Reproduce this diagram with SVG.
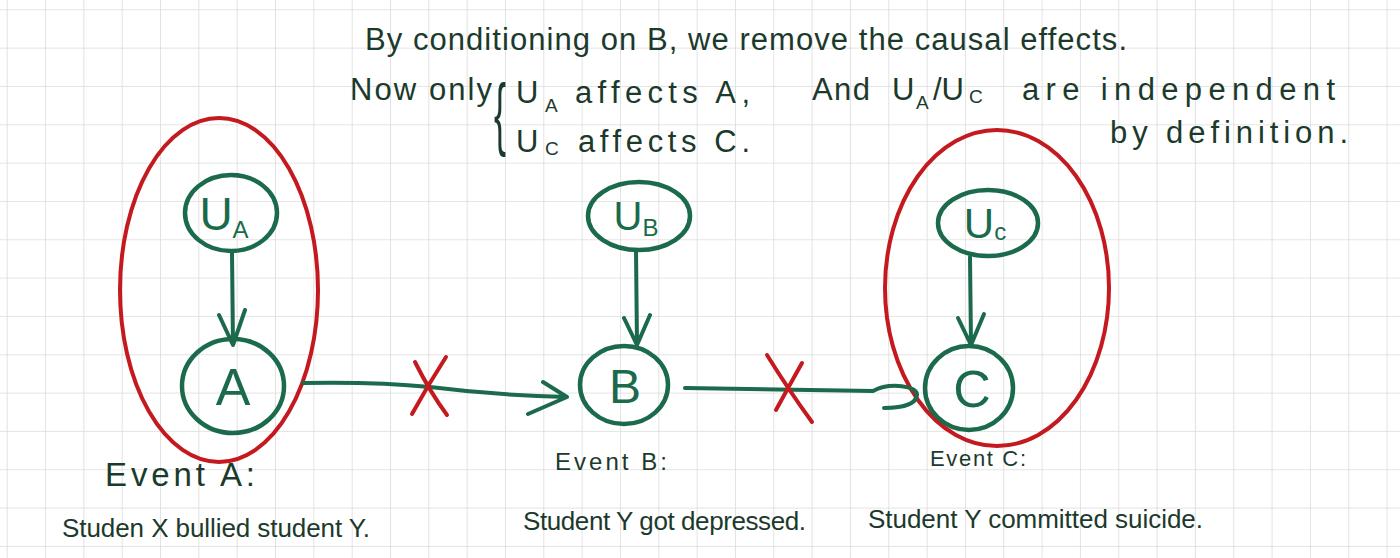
<svg xmlns="http://www.w3.org/2000/svg" width="1400" height="558" viewBox="0 0 1400 558">
<defs>
<pattern id="grid" x="6.7" y="9.3" width="38.33" height="38.33" patternUnits="userSpaceOnUse">
<path d="M0,0 H38.33 M0,0 V38.33" fill="none" stroke="#dcdcdc" stroke-width="1.6"/>
</pattern>
<style>
.t{font-family:"Liberation Sans","DejaVu Sans",sans-serif;fill:#1c3a2c;font-weight:normal}
.big{font-size:31px}
.sub{font-size:19px}
.lbl{font-size:26px}
.nd{fill:none;stroke:#1b6a4b;stroke-width:4.5;stroke-linecap:round;stroke-linejoin:round}
.nt{font-family:"Liberation Sans","DejaVu Sans",sans-serif;fill:#1b6a4b;text-anchor:middle}
.red{fill:none;stroke:#c41a1f;stroke-width:4;stroke-linecap:round}
.cn{fill:none;stroke:#1b6a4b;stroke-width:4;stroke-linecap:round;stroke-linejoin:round}
</style>
</defs>
<rect width="1400" height="558" fill="#ffffff"/>
<rect width="1400" height="558" fill="url(#grid)"/>

<g id="notes">
<text class="t big" x="365" y="50" textLength="762" lengthAdjust="spacing">By conditioning on B, we remove the causal effects.</text>
<text class="t big" x="350" y="100" textLength="142" lengthAdjust="spacing">Now only</text>
<text class="t" x="0" y="0" font-size="80" font-weight="100" transform="translate(494,140) scale(0.45,1)">{</text>
<text class="t big" x="516" y="103" font-size="36">U</text>
<text class="t sub" x="545" y="112">A</text>
<text class="t big" x="575" y="103" font-size="34" textLength="175" lengthAdjust="spacing">affects A,</text>
<text class="t big" x="516" y="152" font-size="36">U</text>
<text class="t sub" x="545" y="155">C</text>
<text class="t big" x="578" y="152" font-size="34" textLength="172" lengthAdjust="spacing">affects C.</text>
<text class="t big" x="812" y="100" font-size="34" textLength="58" lengthAdjust="spacing">And</text>
<text class="t big" x="892" y="100" font-size="36">U</text>
<text class="t sub" x="916" y="109">A</text>
<text class="t big" x="933" y="100" font-size="36">/U</text>
<text class="t sub" x="969" y="103">C</text>
<text class="t big" x="1022" y="100" font-size="34" textLength="313" lengthAdjust="spacing">are independent</text>
<text class="t big" x="1110" y="143" font-size="33" textLength="238" lengthAdjust="spacing">by definition.</text>
</g>

<g id="labels">
<text class="t" font-size="33" x="105" y="486" textLength="150" lengthAdjust="spacing">Event A:</text>
<text class="t lbl" x="62" y="537" textLength="308" lengthAdjust="spacing">Studen X bullied student Y.</text>
<text class="t" font-size="24" x="555" y="470" textLength="112" lengthAdjust="spacing">Event B:</text>
<text class="t lbl" x="523" y="530" textLength="283" lengthAdjust="spacing">Student Y got depressed.</text>
<text class="t" font-size="22" x="930" y="466" textLength="96" lengthAdjust="spacing">Event C:</text>
<text class="t lbl" x="868" y="528" textLength="335" lengthAdjust="spacing">Student Y committed suicide.</text>
</g>

<g id="groups">
<ellipse class="red" cx="219" cy="290" rx="99" ry="172"/>
<ellipse class="red" cx="997" cy="288" rx="112" ry="158"/>
</g>

<g id="connectors">
<path class="cn" d="M232,252 L233,345 M219,315 L233,345 L245,310"/>
<path class="cn" d="M636,250 L637,345 M624,318 L637,345 L650,315"/>
<path class="cn" d="M970,257 L971,345 M958,318 L971,345 L984,314"/>
<path class="cn" d="M303,383 C360,382 400,384 430,387 C470,392 520,396 567,397 M543,382 L567,397 L528,414"/>
<path class="cn" d="M685,388 L873,391 C890,382 918,386 917,395 C916,405 900,408 884,408"/>
<path class="red" d="M415,362 Q430,392 447,415 M446,357 Q428,385 412,414"/>
<path class="red" d="M767,355 Q790,392 812,422 M802,363 Q788,388 776,410"/>
</g>

<g id="node-UA">
<ellipse class="nd" cx="231" cy="213" rx="46" ry="38"/>
<text class="nt" x="224" y="230" font-size="46">U<tspan font-size="24" dy="8">A</tspan></text>
</g>
<g id="node-A">
<ellipse class="nd" cx="233" cy="386" rx="51" ry="47"/>
<text class="nt" x="233" y="405" font-size="52">A</text>
</g>
<g id="node-UB">
<ellipse class="nd" cx="639" cy="216" rx="51" ry="34"/>
<text class="nt" x="636" y="230" font-size="40">U<tspan font-size="24" dy="6">B</tspan></text>
</g>
<g id="node-B">
<ellipse class="nd" cx="624" cy="385" rx="44" ry="39"/>
<text class="nt" x="625" y="403" font-size="48">B</text>
</g>
<g id="node-UC">
<ellipse class="nd" cx="988" cy="223" rx="50" ry="33"/>
<text class="nt" x="985" y="238" font-size="42">U<tspan font-size="24" dy="2">c</tspan></text>
</g>
<g id="node-C">
<ellipse class="nd" cx="969" cy="388" rx="44" ry="42"/>
<text class="nt" x="972" y="407" font-size="52">C</text>
</g>
</svg>
